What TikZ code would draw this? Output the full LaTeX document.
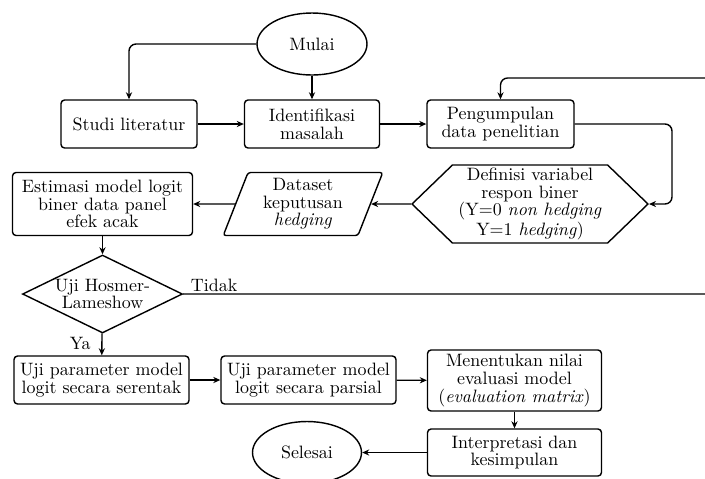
\documentclass[tikz,border=0pt]{standalone}
\usetikzlibrary{shapes.geometric,shapes.symbols,arrows.meta}

\begin{document}
\begin{tikzpicture}
  [x=0.02cm,y=-0.02cm,line width=0.8pt,>={Stealth[length=4pt,width=3.5pt]},
   every node/.style={font=\fontsize{10.2}{10}\selectfont,align=center,inner sep=1pt},
   kotak/.style={draw,rectangle,rounded corners=2pt,minimum height=0.96cm},
   elips/.style={draw,ellipse,minimum width=2.2cm,minimum height=1.24cm},
   jajar/.style={draw,trapezium,trapezium left angle=71,trapezium right angle=109,
     trapezium stretches=true,rounded corners=1.5pt,minimum width=3.2cm,minimum height=1.26cm},
   hexa/.style={draw,signal,signal to=east and west,signal pointer angle=88,
     inner sep=0pt,minimum width=4.72cm,minimum height=1.56cm},
   belah/.style={draw,diamond,aspect=2,minimum width=3.2cm,minimum height=1.56cm,inner sep=0pt},
   garis/.style={->,rounded corners=4pt}]
  \useasboundingbox (0,0) rectangle (705,478);
  \clip (0,0) rectangle (705,478);

  \node[elips] (mulai) at (312,44) {Mulai};
  \node[kotak,minimum width=2.72cm] (studi) at (129,124) {Studi literatur};
  \node[kotak,minimum width=2.7cm] (ident) at (312,124) {Identifikasi\\masalah};
  \node[kotak,minimum width=2.94cm] (kumpul) at (500.5,124) {Pengumpulan\\data penelitian};
  \node[hexa] (defin) at (530,204) {Definisi variabel\\respon biner\\(Y=0 \textit{non hedging}\\Y=1 \textit{hedging})};
  \node[jajar] (data) at (303,204) {Dataset\\keputusan\\\textit{hedging}};
  \node[kotak,minimum width=3.6cm,minimum height=1.26cm] (estim) at (102.5,204) {Estimasi model logit\\biner data panel\\efek acak};
  \node[belah] (uji) at (102.5,294) {Uji Hosmer-\\Lameshow};
  \node[kotak,minimum width=3.5cm] (serentak) at (101.5,380) {Uji parameter model\\logit secara serentak};
  \node[kotak,minimum width=3.5cm] (parsial) at (308.5,380) {Uji parameter model\\logit secara parsial};
  \node[kotak,minimum width=3.48cm,minimum height=1.22cm] (nilai) at (514.5,380.5) {Menentukan nilai\\evaluasi model\\(\textit{evaluation matrix})};
  \node[kotak,minimum width=3.48cm,minimum height=0.94cm] (interp) at (514.5,452.5) {Interpretasi dan\\kesimpulan};
  \node[elips,minimum width=2.18cm] (selesai) at (307,452.5) {Selesai};

  \coordinate (belok) at (672,204);
  \coordinate (luar1) at (720,294);
  \coordinate (luar2) at (720,78);

  \draw[garis] (mulai) -| (studi);
  \draw[garis] (mulai) -- (ident);
  \draw[garis] (studi) -- (ident);
  \draw[garis] (ident) -- (kumpul);
  \draw[garis] (kumpul) -| (belok) -- (defin);
  \draw[garis] (defin) -- (data);
  \draw[garis] (data) -- (estim);
  \draw[garis] (estim) -- (uji);
  \draw[garis] (uji) -- node[pos=0,anchor=south west,xshift=3pt]{Tidak} (luar1) -- (luar2) -| (kumpul);
  \draw[garis] (uji) -- node[left,pos=0.45,xshift=-5pt]{Ya} (serentak);
  \draw[garis] (serentak) -- (parsial);
  \draw[garis] (parsial) -- (nilai);
  \draw[garis] (nilai) -- (interp);
  \draw[garis] (interp) -- (selesai);
\end{tikzpicture}
\end{document}
